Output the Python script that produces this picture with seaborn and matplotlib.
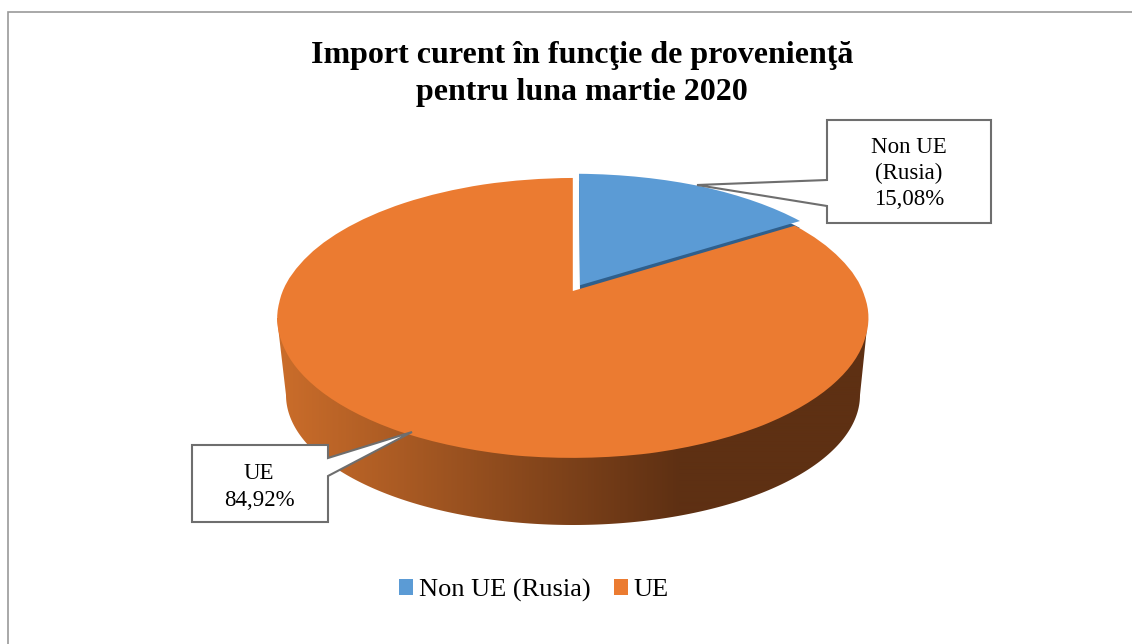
import numpy as np
import matplotlib
matplotlib.use("Agg")
import matplotlib.pyplot as plt
from matplotlib.patches import Polygon, Wedge
from matplotlib.transforms import Transform, Affine2D
import seaborn as sns

categories = ["Non UE (Rusia)", "UE"]
values = [15.08, 84.92]
callout_names = ["Non UE\n(Rusia)", "UE"]
title_text = "Import curent în funcţie de provenienţă\npentru luna martie 2020"

PIE_COLORS = ["#5B9BD5", "#EB7B31"]
BLUE_SIDE = "#2F5F8C"
WALL_LIGHT, WALL_DARK = "#C96C2A", "#5E3013"
EDGE = "#6E6E6E"

sns.set_theme(style="white")
plt.rcParams["font.family"] = ["Liberation Serif", "DejaVu Serif"]

W, H = 1132, 644
fig = plt.figure(figsize=(W / 100, H / 100), dpi=100, facecolor="white")
ax = fig.add_axes([0, 0, 1, 1])


class PiePerspective(Transform):
    """Tilted-disc view: unit-circle pie coordinates to picture pixels."""
    input_dims = 2
    output_dims = 2
    is_separable = False
    has_inverse = False

    def transform_non_affine(self, values):
        values = np.asarray(values, dtype=float)
        u, v = values[:, 0], values[:, 1]
        r, th = np.hypot(u, v), np.arctan2(v, u)
        th = th + np.radians(3.6) * np.sin(2 * (th - np.pi / 2))
        u, v = r * np.cos(th), r * np.sin(th)
        w = 1 + 0.193 * v
        return np.column_stack((572.8 + 289.8 * u / w, (291 - 78.7 * v) / w))


wedges, _ = ax.pie(values, colors=PIE_COLORS, startangle=90, counterclock=False,
                   explode=[0.05, 0], wedgeprops={"linewidth": 0})
proj = PiePerspective() + ax.transData
for w in wedges:
    w.set_transform(proj)
    w.set_zorder(4)

ax.set_aspect("auto")
ax.set_xlim(0, W)
ax.set_ylim(H, 0)
ax.axis("on")
ax.set_xticks([])
ax.set_yticks([])
for s in ax.spines.values():
    s.set_visible(False)
ax.set_facecolor("white")

# side wall of the disc, shaded from left to right
t = np.linspace(np.pi, 0, 200)
wall_pts = np.vstack(([[277, 318]],
                      np.column_stack((573 + 287 * np.cos(t), 395 + 130 * np.sin(t))),
                      [[868, 318]]))
wall = Polygon(wall_pts, closed=True, fc="none", ec="none", transform=ax.transData)
ax.add_patch(wall)
cmap = sns.blend_palette([WALL_LIGHT, WALL_DARK], as_cmap=True)
xs = np.arange(270, 880)
shade = np.clip((xs - 285) / (680 - 285), 0, 1)[None, :]
im = ax.imshow(shade, cmap=cmap, vmin=0, vmax=1, aspect="auto",
               extent=(270, 880, 530, 300), zorder=1, interpolation="bilinear")
im.set_clip_path(wall)
ax.set_xlim(0, W)
ax.set_ylim(H, 0)

# cut face of the pulled-out slice
b = wedges[0]
ax.add_patch(Wedge(b.center, b.r, b.theta1, b.theta2, fc=BLUE_SIDE, ec="none", zorder=2,
                   transform=proj + Affine2D().translate(0, -7)))
wedges[0].set_zorder(5)

# chart border
ax.plot([8, 8, W], [H, 11.5, 11.5], color="#9A9A9A", lw=1.2, zorder=1, solid_joinstyle="miter")

# call-outs
callouts = [
    ([(827, 120), (991, 120), (991, 223), (827, 223), (827, 206), (697, 185), (827, 180)],
     (909, 173.5), 0),
    ([(192, 445), (328, 445), (328, 458), (412, 432), (328, 476), (328, 522), (192, 522)],
     (259, 487), 1),
]
for pts, (tx, ty), i in callouts:
    ax.add_patch(Polygon(pts, closed=True, fc="white", ec=EDGE, lw=1.5, zorder=6,
                         joinstyle="miter"))
    pct = f"{values[i]:.2f}".replace(".", ",") + "%"
    ax.text(tx, ty, f"{callout_names[i]}\n{pct}", ha="center", va="center", fontsize=16.5,
            color="black", zorder=7, linespacing=1.33)

# title
ax.text(582, 74, title_text, ha="center", va="center", fontsize=23, fontweight="bold",
        color="black", linespacing=1.33, zorder=7)

# legend
ax.legend(wedges, categories, loc="center", bbox_to_anchor=(534, 590),
          bbox_transform=ax.transData, ncol=2, frameon=False, fontsize=19,
          handlelength=0.53, handleheight=0.53, handletextpad=0.23,
          columnspacing=0.87, borderpad=0, labelcolor="black")

fig.savefig("out.png", dpi=100, facecolor="white")
